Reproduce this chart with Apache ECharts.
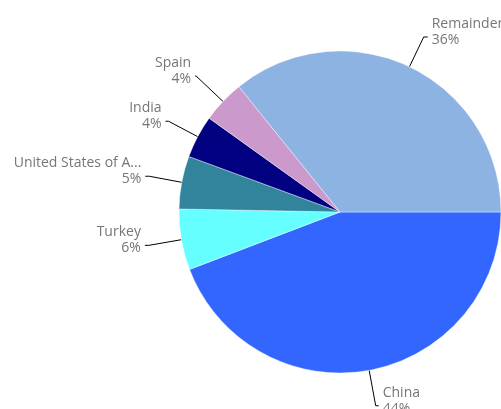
<!DOCTYPE html>
<html>
<head>
<meta charset="utf-8">
<script src="https://cdn.jsdelivr.net/npm/echarts@6/dist/echarts.min.js"></script>
<style>
  html, body { margin: 0; padding: 0; background: #fff; }
  #chart { width: 501px; height: 409px; }
</style>
</head>
<body>
<div id="chart"></div>
<script>
// Share of total, in percent
const categories = ['China', 'Turkey', 'United States of America', 'India', 'Spain', 'Remainder'];
const shares = [44.2, 6.1, 5.3, 4.3, 4.3, 35.8];
const sliceColors = ['#3366ff', '#66ffff', '#31849b', '#000080', '#cc99cc', '#8db3e2'];
// leader line lengths (radial part, horizontal part) per slice
const leaderLengths = [[36, 3], [33, 4], [33, 4], [33, 3], [37, 1], [33, 4]];

function shortName(name) {
  return name.length > 19 ? name.slice(0, 18) + '...' : name;
}

const chart = echarts.init(document.getElementById('chart'), null, { renderer: 'canvas' });
chart.setOption({
  animation: false,
  series: [{
    type: 'pie',
    center: [340, 212],
    radius: 161,
    startAngle: 0,
    clockwise: true,
    avoidLabelOverlap: false,
    labelLayout: { hideOverlap: false },
    data: categories.map((name, i) => ({
      name: name,
      value: shares[i],
      itemStyle: { color: sliceColors[i] },
      labelLine: { length: leaderLengths[i][0], length2: leaderLengths[i][1] }
    })),
    itemStyle: { borderColor: '#ffffff', borderWidth: 0.4 },
    label: {
      show: true,
      position: 'outside',
      // name and rounded share on two lines; the spacer lifts the text so the
      // leader meets the share line
      formatter: p => '{t|' + shortName(p.name) + '}\n{t|' + Math.round(p.value) + '%}\n{s|}',
      rich: {
        t: {
          color: '#767676',
          fontFamily: 'Open Sans',
          fontSize: 14,
          lineHeight: 16
        },
        s: { height: 10, lineHeight: 10 }
      },
      distanceToLabelLine: 4
    },
    labelLine: {
      show: true,
      lineStyle: { color: '#000000', width: 1 }
    }
  }]
});
</script>
</body>
</html>
